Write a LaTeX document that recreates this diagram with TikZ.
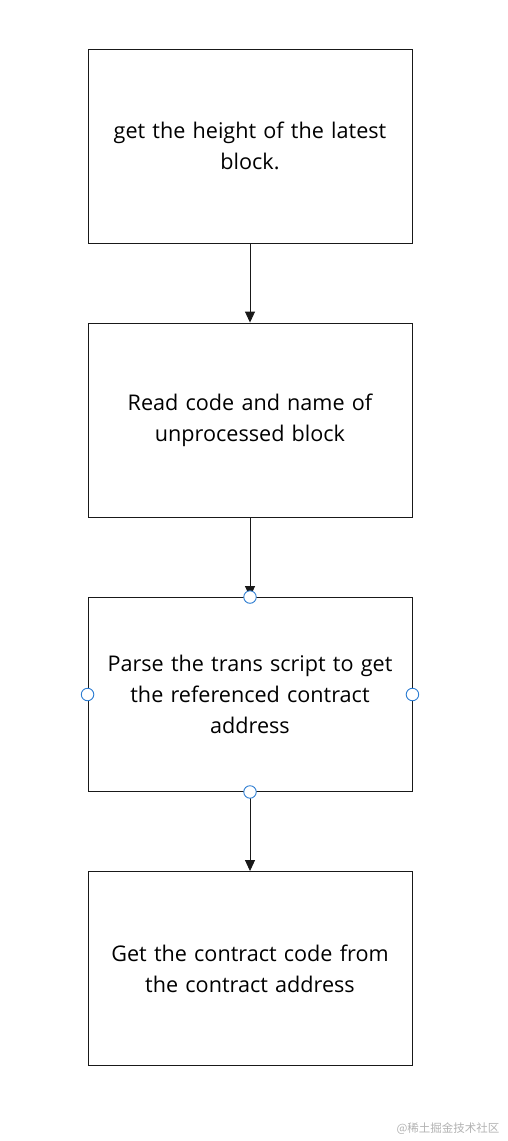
\documentclass[tikz,border=0pt]{standalone}
\usepackage{fontspec}
\setmainfont{Open Sans}
\newfontfamily\cjk{Noto Sans CJK SC}
\usetikzlibrary{arrows.meta}

\begin{document}
\begin{tikzpicture}[x=1pt, y=1pt,
    stepbox/.style={draw=black!90, line width=.9pt, minimum width=324pt,
        minimum height=194pt, align=center, text width=310pt,
        font=\fontsize{21.6}{31}\selectfont, inner sep=0pt},
    arrow/.style={-{Triangle[length=11pt, width=10pt]}, line width=.9pt,
        draw=black!90},
    handle/.style={circle, draw={rgb,255:red,45;green,125;blue,210},
        fill=white, line width=.9pt, minimum size=12.5pt, inner sep=0},
]
    \useasboundingbox (0, 0) rectangle (507, -1141);

    %% the four steps, top to bottom
    \node[stepbox] (height) at (250, -146)
        {get the height of the latest\\block.};
    \node[stepbox] (read) at (250, -420)
        {Read code and name of\\unprocessed block};
    \node[stepbox] (parse) at (250, -694.5)
        {Parse the trans script to get\\the referenced contract\\address};
    \node[stepbox] (fetch) at (250, -968.5)
        {Get the contract code from\\the contract address};
    \draw[arrow] (height) -- (read);
    \draw[arrow] (read) -- (parse);
    \draw[arrow] (parse) -- (fetch);

    %% selection handles round the third step
    \foreach \side in {north, south, west, east}{
        \node[handle] (handle-\side) at (parse.\side) {};
    }

    %% watermark
    \node[font=\cjk\fontsize{11.5}{13}\selectfont, text=black!30]
        (mark) at (448, -1129) {@稀土掘金技术社区};
\end{tikzpicture}
\end{document}
